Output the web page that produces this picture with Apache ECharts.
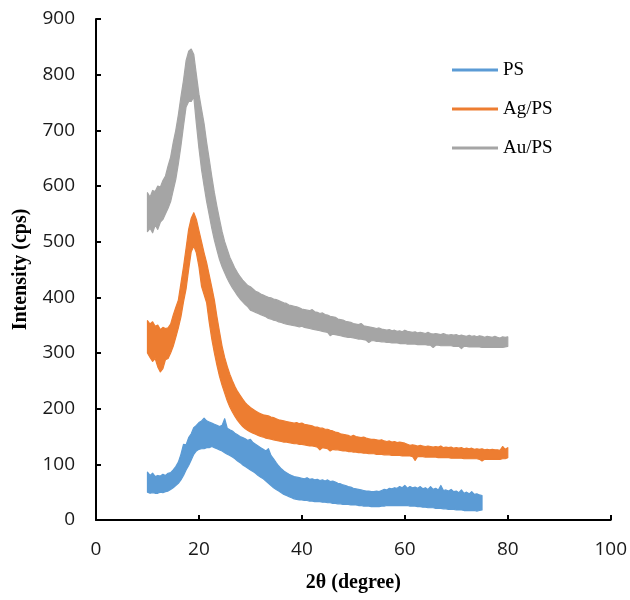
<!DOCTYPE html>
<html>
<head>
<meta charset="utf-8">
<script src="https://cdn.jsdelivr.net/npm/echarts@6/dist/echarts.min.js"></script>
<style>html,body{margin:0;padding:0;background:#fff}#c{width:630px;height:600px}</style>
</head>
<body>
<div id="c"></div>
<script>
const seriesNames = ['PS', 'Ag/PS', 'Au/PS'];
const xTicks = [0, 20, 40, 60, 80, 100];
const yTicks = [0, 100, 200, 300, 400, 500, 600, 700, 800, 900];

const angles = [
10,10.5,11,11.5,12,12.5,13,13.5,14,14.5,15,15.5,16,16.5,17,17.5,18,18.5,19,19.5,
20,20.5,21,21.5,22,22.5,23,23.5,24,24.5,25,25.5,26,26.5,27,27.5,28,28.5,29,29.5,
30,30.5,31,31.5,32,32.5,33,33.5,34,34.5,35,35.5,36,36.5,37,37.5,38,38.5,39,39.5,
40,40.5,41,41.5,42,42.5,43,43.5,44,44.5,45,45.5,46,46.5,47,47.5,48,48.5,49,49.5,
50,50.5,51,51.5,52,52.5,53,53.5,54,54.5,55,55.5,56,56.5,57,57.5,58,58.5,59,59.5,
60,60.5,61,61.5,62,62.5,63,63.5,64,64.5,65,65.5,66,66.5,67,67.5,68,68.5,69,69.5,
70,70.5,71,71.5,72,72.5,73,73.5,74,74.5,75,75.5,76,76.5,77,77.5,78,78.5,79,79.5,
80];

// upper and lower edges of each noisy trace
const psUpper = [
86,80,84,78,80,79,82,80,84,85, 90,96,104,118,136,135,148,155,166,170,
175,178,183,178,176,174,172,170,168,170, 182,165,162,160,156,153,150,148,146,143,
145,139,136,133,130,127,124,128,116,110, 103,97,92,88,85,82,80,78,77,76,
75,74,76,73,74,72,73,71,72,70, 72,69,70,68,66,65,63,62,60,59,
57,56,55,54,53,52,52,51,51,52, 51,53,55,54,57,56,58,57,60,58,
62,57,60,58,59,57,60,56,58,55, 60,55,57,54,62,53,54,52,55,51,
52,49,54,48,50,47,51,46,47,45, 44];
const psLower = [
50,48,49,48,48,50,49,51,52,55, 58,62,66,72,80,90,98,108,118,124,
127,128,128,130,130,132,130,128,126,124, 121,118,116,113,110,106,103,99,96,93,
90,87,84,80,77,74,70,66,62,58, 55,52,49,46,44,42,40,38,37,36,
36,35,35,34,34,33,33,33,32,32, 31,31,30,30,29,29,28,28,28,27,
27,27,26,26,25,25,25,24,24,24, 24,25,25,26,26,26,26,26,26,26,
26,26,25,25,25,24,24,23,23,22, 22,22,21,21,21,20,20,19,19,19,
18,18,18,17,17,17,17,17,16,17, 18];

const agpsUpper = [
358,352,356,348,350,342,346,344,345,352, 368,382,395,425,455,488,522,542,552,540,
520,500,480,462,440,418,395,365,338,312, 292,276,262,250,240,231,224,217,211,206,
202,199,196,193,191,189,188,187,185,184, 182,180,179,178,177,176,175,174,175,173,
174,172,171,170,169,167,167,165,165,163, 163,161,160,158,157,155,154,153,152,150,
152,150,149,148,149,147,146,145,145,144, 143,144,142,141,142,140,141,139,140,139,
138,136,134,135,134,133,134,133,132,133, 132,131,132,131,133,130,131,130,131,129,
130,129,130,128,129,128,129,127,128,127, 128,126,127,126,127,126,126,125,132,127,
130];
const agpsLower = [
300,292,285,290,275,266,272,288,290,300, 312,328,345,365,392,415,450,482,492,480,
455,420,405,390,355,325,300,278,258,242, 228,214,203,194,186,179,173,168,164,161,
158,156,154,152,150,149,147,146,145,144, 143,142,141,140,140,139,138,137,137,136,
136,135,134,133,133,132,131,126,130,129, 128,124,127,126,126,125,124,124,123,123,
122,122,121,121,120,120,119,119,119,118, 118,118,117,117,117,116,116,116,116,115,
115,115,115,114,107,114,114,114,113,113, 113,113,113,112,112,112,112,112,111,111,
111,111,111,110,110,110,110,110,110,109, 106,109,109,109,109,109,109,109,110,110,
112];

const aupsUpper = [
588,580,592,590,600,598,610,618,636,652, 678,700,728,760,790,825,842,846,836,800,
765,738,712,678,648,617,588,563,540,518, 500,486,472,462,452,444,437,431,426,421,
419,415,411,409,406,404,402,400,399,397, 396,394,392,390,389,386,385,384,383,381,
379,378,377,376,378,374,373,371,372,369, 368,366,365,364,361,360,359,357,356,355,
353,352,351,353,349,348,347,346,345,344, 345,343,342,341,342,340,341,339,340,338,
341,339,338,337,338,336,337,336,335,337, 335,334,335,334,333,335,333,332,333,332,
333,331,332,331,330,332,330,331,329,331, 330,328,330,329,328,330,328,327,329,328,
329];
const aupsLower = [
518,524,516,530,522,535,540,550,560,572, 592,612,640,672,708,742,752,752,760,712,
668,630,600,572,548,524,503,485,468,455, 444,434,425,417,410,403,397,392,387,383,
377,375,373,371,369,367,365,362,361,359, 358,356,355,353,352,351,350,349,348,347,
348,346,345,344,343,342,341,340,339,338, 337,331,334,333,332,331,330,329,328,328,
327,326,325,325,324,323,319,322,322,321, 321,320,320,319,319,318,318,318,317,317,
317,316,316,316,316,315,315,315,315,314, 314,310,314,314,313,313,313,313,313,312,
312,312,308,312,312,311,311,311,311,311, 310,310,310,310,310,310,310,310,310,311,
312];

const colors = ['#5B9BD5', '#ED7D31', '#A5A5A5'];
const uppers = [psUpper, agpsUpper, aupsUpper];
const lowers = [psLower, agpsLower, aupsLower];

function rows(up, lo) { return up.map((u, i) => [angles[i], lo[i], u]); }

const chart = echarts.init(document.getElementById('c'), null, {renderer: 'canvas'});
const serif = '"Liberation Serif", "Times New Roman", serif';
const sans = '"Open Sans", "Noto Sans", sans-serif';

function bandSeries(name, up, lo, color) {
  const data = rows(up, lo);
  return {
    name: name, type: 'custom',
    data: data,
    encode: {x: 0, y: [1, 2]},
    itemStyle: {color: color},
    renderItem: function (params, api) {
      if (params.dataIndex !== 0) return null;
      const top = data.map(r => api.coord([r[0], r[2]]));
      const bot = data.map(r => api.coord([r[0], r[1]])).reverse();
      return {
        type: 'polygon',
        shape: {points: top.concat(bot)},
        style: {fill: color, stroke: color, lineWidth: 1.2, lineJoin: 'round'}
      };
    }
  };
}

chart.setOption({
  animation: false,
  backgroundColor: '#fff',
  color: colors,
  grid: {left: 96, right: 19, top: 19, bottom: 80, containLabel: false},
  legend: {
    orient: 'vertical', left: 447, top: 55,
    itemWidth: 46, itemHeight: 3, itemGap: 19, icon: 'rect',
    textStyle: {fontFamily: serif, fontSize: 19, color: '#000', lineHeight: 20},
    data: seriesNames
  },
  xAxis: {
    type: 'value', min: 0, max: 100, interval: 20,
    name: '2θ (degree)', nameLocation: 'middle', nameGap: 53,
    nameTextStyle: {fontFamily: serif, fontSize: 20, fontWeight: 'bold', color: '#000'},
    axisLine: {show: true, onZero: false, lineStyle: {color: '#000', width: 2}},
    axisTick: {show: true, inside: true, length: 5, lineStyle: {color: '#000', width: 2}},
    axisLabel: {fontFamily: sans, fontSize: 19, color: '#1a1a1a', margin: 20,
      formatter: v => xTicks.includes(v) ? String(v) : ''},
    splitLine: {show: false}
  },
  yAxis: {
    type: 'value', min: 0, max: 900, interval: 100,
    name: 'Intensity (cps)', nameLocation: 'middle', nameGap: 65,
    nameTextStyle: {fontFamily: serif, fontSize: 20, fontWeight: 'bold', color: '#000'},
    axisLine: {show: true, lineStyle: {color: '#000', width: 2}},
    axisTick: {show: true, inside: true, length: 5, lineStyle: {color: '#000', width: 2}},
    axisLabel: {fontFamily: sans, fontSize: 19, color: '#1a1a1a', margin: 21,
      formatter: v => yTicks.includes(v) ? String(v) : ''},
    splitLine: {show: false}
  },
  series: seriesNames.map((n, i) => bandSeries(n, uppers[i], lowers[i], colors[i]))
});
</script>
</body>
</html>
